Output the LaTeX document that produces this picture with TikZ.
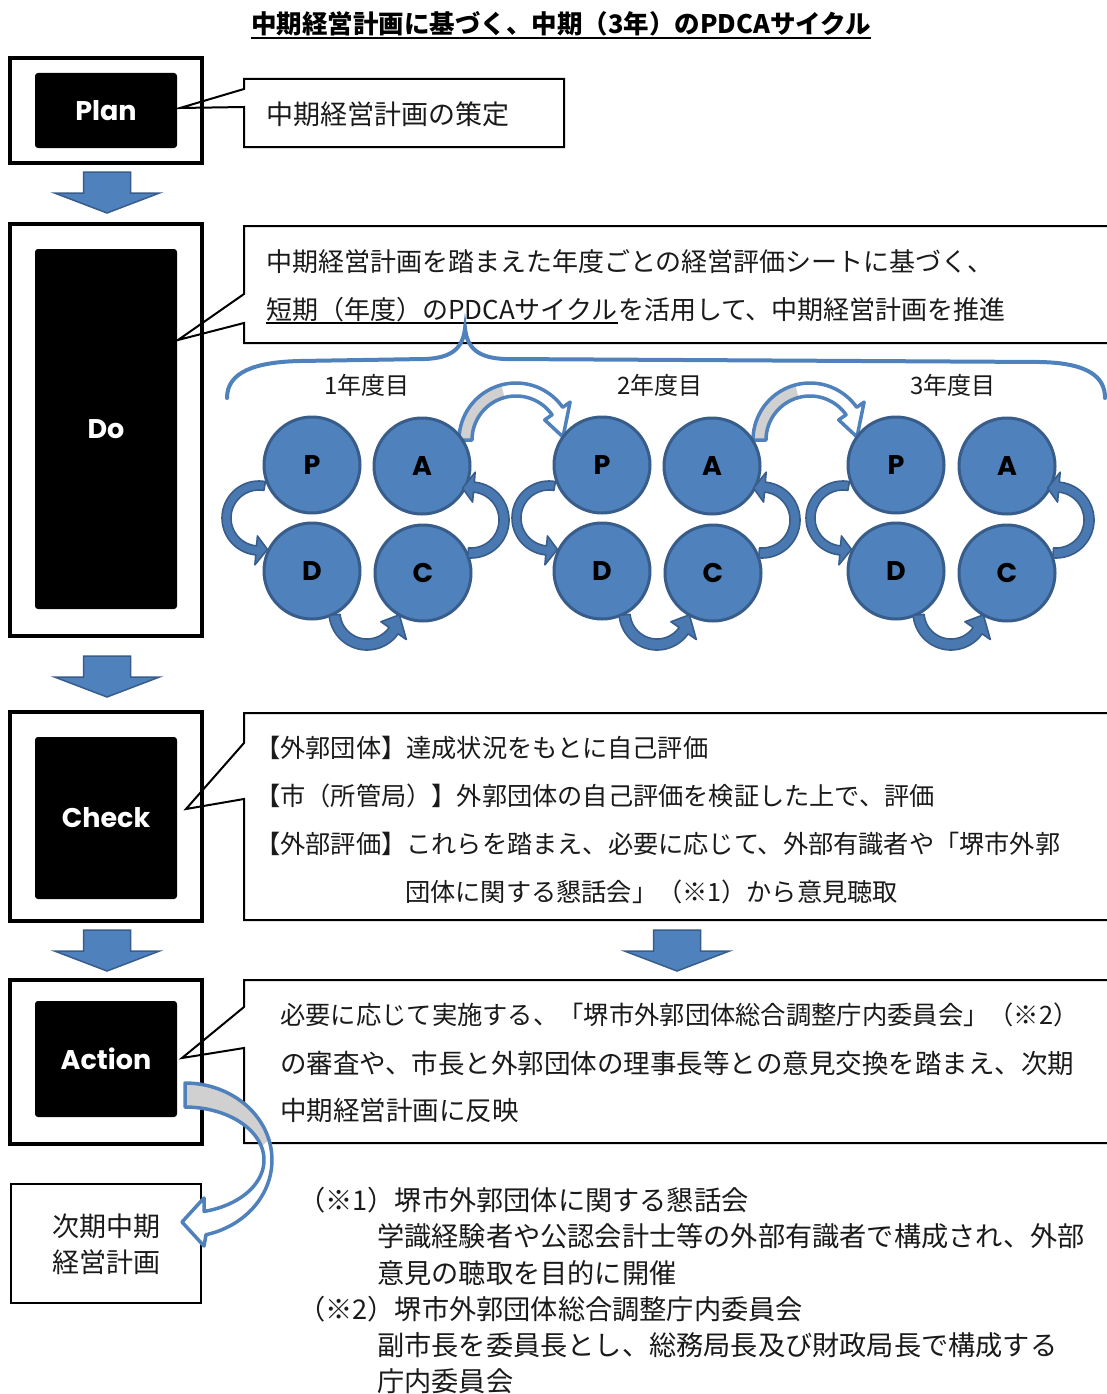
\documentclass[tikz,border=0pt]{standalone}
\usepackage{fontspec}
\newfontfamily\jp{Noto Sans CJK JP}
\newfontfamily\lat{Poppins}
\usetikzlibrary{calc}
\definecolor{pblue}{HTML}{4F81BD}
\definecolor{pdark}{HTML}{385D8A}
\definecolor{sblue}{HTML}{4A78B0}
\definecolor{agray}{HTML}{D0D0D0}
\definecolor{txtc}{HTML}{1A1A1A}

\newcommand{\blockdown}[2]{%
  \path[blockarrow] ({#1-23.5},#2) -- ({#1+23.5},#2) -- ({#1+23.5},{#2+21}) -- ({#1+52.5},{#2+21}) -- (#1,{#2+41}) -- ({#1-52.5},{#2+21}) -- ({#1-23.5},{#2+21}) -- cycle;}

% callout: #1 right x, #2 top, #3 bottom, #4 upper base y, #5 lower base y, #6 tip x, #7 tip y
\newcommand{\callout}[7]{%
  \path[callbox] (244,#2) -- (#1,#2) -- (#1,#3) -- (244,#3) -- (244,#5) -- (#6,#7) -- (244,#4) -- cycle;}

% curved arrow: #1 cx, #2 cy, #3 R, #4 r, #5 a1, #6 a2, #7 tip angle
\newcommand{\cvarrow}[7]{%
  \path[smallarrow] plot[domain=#5:#6, samples=40] ({#1+#3*cos(\x)},{#2-#3*sin(\x)})
    -- ({#1+(#3+10)*cos(#6)},{#2-(#3+10)*sin(#6)})
    -- ({#1+(#3+#4)/2*cos(#7)},{#2-(#3+#4)/2*sin(#7)})
    -- ({#1+(#4-10)*cos(#6)},{#2-(#4-10)*sin(#6)})
    -- plot[domain=#6:#5, samples=40] ({#1+#4*cos(\x)},{#2-#4*sin(\x)})
    -- cycle;}

% arch arrow between years: #1 center x
\newcommand{\archarrow}[1]{%
  \fill[white] plot[domain=180:35,samples=40] ({#1+57*cos(\x)},{440-57*sin(\x)}) -- ({#1+54.1},402.1) -- ({#1+47},437) -- ({#1+28.7},419.9) -- plot[domain=35:180,samples=40] ({#1+44*cos(\x)},{440-44*sin(\x)}) -- cycle;
  \fill[agray] plot[domain=180:105,samples=30] ({#1+57*cos(\x)},{440-57*sin(\x)}) -- plot[domain=105:180,samples=30] ({#1+44*cos(\x)},{440-44*sin(\x)}) -- cycle;
  \draw[archline] plot[domain=180:35,samples=40] ({#1+57*cos(\x)},{440-57*sin(\x)}) -- ({#1+54.1},402.1) -- ({#1+47},437) -- ({#1+28.7},419.9) -- plot[domain=35:180,samples=40] ({#1+44*cos(\x)},{440-44*sin(\x)}) -- cycle;}

\begin{document}
\begin{tikzpicture}[x=1pt,y=-1pt,
  outerbox/.style={draw=black, line width=4pt, minimum width=192pt, inner sep=0pt},
  innerbox/.style={fill=black, rounded corners=3pt, minimum width=142pt, inner sep=0pt, text=white, font=\lat\bfseries\fontsize{27}{32}\selectfont},
  thinbox/.style={draw=black, line width=2pt, minimum width=190pt, minimum height=119pt, inner sep=0pt},
  callbox/.style={draw=black, fill=white, line width=2pt, line join=miter},
  blockarrow/.style={fill=pblue, draw=pdark, line width=1.5pt, line join=miter},
  smallarrow/.style={fill=sblue, draw=pdark, line width=1.6pt, line join=round},
  archline/.style={draw=pblue, line width=3.5pt, line join=round},
  brace/.style={draw=pblue, line width=4pt, line cap=round},
  pcirc/.style={circle, minimum size=96pt, inner sep=0pt, fill=pblue, draw=pdark, line width=3pt, text=black, font=\lat\bfseries\fontsize{27}{30}\selectfont},
  txt/.style={font=\jp\fontsize{26}{30}\selectfont, inner sep=0pt, anchor=west, text=txtc},
  ctxt/.style={font=\jp\fontsize{25.2}{30}\selectfont, inner sep=0pt, anchor=west, text=txtc},
  atxt/.style={font=\jp\fontsize{26.5}{30}\selectfont, inner sep=0pt, anchor=west, text=txtc},
  ntxt/.style={font=\jp\fontsize{27.2}{30}\selectfont, inner sep=0pt, anchor=west, text=txtc},
  yr/.style={font=\jp\fontsize{24}{28}\selectfont, inner sep=0pt, text=txtc}
]
\useasboundingbox (0,0) rectangle (1107,1394);
\clip (0,0) rectangle (1107,1394);
\fill[white] (0,0) rectangle (1107,1394);

% title
\node[anchor=base, inner sep=0pt, font=\jp\bfseries\fontsize{25.5}{30}\selectfont] (title) at (561,33.5) {中期経営計画に基づく、中期（3年）のPDCAサイクル};
\draw[line width=2pt] ([yshift=-4.5pt]title.base west) -- ([yshift=-4.5pt]title.base east);

% callouts
\callout{564}{79}{147}{89}{107}{180}{108}
\callout{1120}{226}{343}{294}{323}{178}{340}
\callout{1120}{713}{920}{743}{799}{186}{809}
\callout{1120}{980}{1143}{1007}{1048}{182}{1058}

% outer boxes
\node[outerbox, minimum height=105pt] (planbox) at (106,110.5) {};
\node[outerbox, minimum height=412pt] (dobox) at (106,430) {};
\node[outerbox, minimum height=209pt] (checkbox) at (106,816.5) {};
\node[outerbox, minimum height=164pt] (actionbox) at (106,1062) {};

% inner boxes
\node[innerbox, minimum height=75pt] (plan) at (106,110.5) {Plan};
\node[innerbox, minimum height=360pt] (do) at (106,429) {Do};
\node[innerbox, minimum height=162pt] (check) at (106,818) {Check};
\node[innerbox, minimum height=116pt] (action) at (106,1059) {Action};

% down arrows
\blockdown{107}{172}
\blockdown{107}{656}
\blockdown{107}{930}
\blockdown{677}{930}

% callout texts
\node[txt, font=\jp\fontsize{27}{30}\selectfont] (plantxt) at (266,114) {中期経営計画の策定};
\node[txt] (do1) at (266,262) {中期経営計画を踏まえた年度ごとの経営評価シートに基づく、};
\node[txt, anchor=base west] (do2a) at (266,319) {短期（年度）のPDCAサイクル};
\node[txt, anchor=base west] (do2b) at (do2a.base east) {を活用して、中期経営計画を推進};
\draw[line width=1.8pt] ([yshift=-4pt]do2a.base west) -- ([yshift=-4pt]do2a.base east);

\node[ctxt] (c1) at (255,748) {【外郭団体】達成状況をもとに自己評価};
\node[ctxt] (c2) at (255,796) {【市（所管局）】外郭団体の自己評価を検証した上で、評価};
\node[ctxt] (c3) at (255,844) {【外部評価】これらを踏まえ、必要に応じて、外部有識者や「堺市外郭};
\node[ctxt] (c4) at (405,892) {団体に関する懇話会」（※1）から意見聴取};

\node[atxt, font=\jp\fontsize{25.3}{30}\selectfont] (a1) at (280,1015) {必要に応じて実施する、「堺市外郭団体総合調整庁内委員会」（※2）};
\node[atxt] (a2) at (280,1063) {の審査や、市長と外郭団体の理事長等との意見交換を踏まえ、次期};
\node[atxt] (a3) at (280,1110) {中期経営計画に反映};

% brace
\draw[brace] (227,398) .. controls (227,372) and (255,362) .. (300,361) -- (425,359) .. controls (452,358) and (463,348) .. (465,328) .. controls (467,348) and (478,358) .. (505,359) -- (1040,362) .. controls (1090,363) and (1105,378) .. (1105,398);

% year labels
\node[yr] (y1) at (367,385) {1年度目};
\node[yr] (y2) at (660,385) {2年度目};
\node[yr] (y3) at (953,385) {3年度目};

% arch arrows between years
\archarrow{516}
\archarrow{810}

% circles
\node[pcirc] (p1) at (312,465) {P};
\node[pcirc] (a1c) at (422,466) {A};
\node[pcirc] (d1) at (312,571) {D};
\node[pcirc] (c1c) at (423,573) {C};
\node[pcirc] (p2) at (602,465) {P};
\node[pcirc] (a2c) at (712,466) {A};
\node[pcirc] (d2) at (602,571) {D};
\node[pcirc] (c2c) at (713,573) {C};
\node[pcirc] (p3) at (896,465) {P};
\node[pcirc] (a3c) at (1007,466) {A};
\node[pcirc] (d3) at (896,571) {D};
\node[pcirc] (c3c) at (1007,573) {C};

% small cycle arrows
\cvarrow{259}{518}{37}{28}{80}{265}{285}
\cvarrow{367}{612}{38}{27}{185}{325}{355}
\cvarrow{471}{520}{38}{28}{-95}{85}{105}
\cvarrow{549}{518}{37}{28}{80}{265}{285}
\cvarrow{657}{612}{38}{27}{185}{325}{355}
\cvarrow{762}{520}{38}{28}{-95}{85}{105}
\cvarrow{843}{518}{37}{28}{80}{265}{285}
\cvarrow{951}{612}{38}{27}{185}{325}{355}
\cvarrow{1056}{520}{38}{28}{-95}{85}{105}

% next plan box
\node[thinbox] (next) at (106,1243.5) {};
\node[font=\jp\fontsize{27}{32}\selectfont, inner sep=0pt, text=txtc] (next1) at (106,1226) {次期中期};
\node[font=\jp\fontsize{27}{32}\selectfont, inner sep=0pt, text=txtc] (next2) at (106,1262) {経営計画};

% big curved arrow Action -> next
\fill[white] plot[domain=90:-76,samples=50] ({185+87*cos(\x)},{1160-77*sin(\x)}) -- (204,1246) -- (182,1222) -- (204,1198) -- plot[domain=-76:90,samples=50] ({185+79*cos(\x)},{1160-53*sin(\x)}) -- cycle;
\fill[agray] plot[domain=90:15,samples=40] ({185+87*cos(\x)},{1160-77*sin(\x)}) -- plot[domain=15:90,samples=40] ({185+79*cos(\x)},{1160-53*sin(\x)}) -- cycle;
\draw[archline] plot[domain=90:-76,samples=50] ({185+87*cos(\x)},{1160-77*sin(\x)}) -- (204,1246) -- (182,1222) -- (204,1198) -- plot[domain=-76:90,samples=50] ({185+79*cos(\x)},{1160-53*sin(\x)}) -- cycle;

% notes
\node[ntxt] (n1) at (298,1200) {（※1）堺市外郭団体に関する懇話会};
\node[ntxt] (n2) at (377,1236) {学識経験者や公認会計士等の外部有識者で構成され、外部};
\node[ntxt] (n3) at (377,1273) {意見の聴取を目的に開催};
\node[ntxt] (n4) at (298,1309) {（※2）堺市外郭団体総合調整庁内委員会};
\node[ntxt] (n5) at (377,1345) {副市長を委員長とし、総務局長及び財政局長で構成する};
\node[ntxt] (n6) at (377,1381) {庁内委員会};
\end{tikzpicture}
\end{document}
